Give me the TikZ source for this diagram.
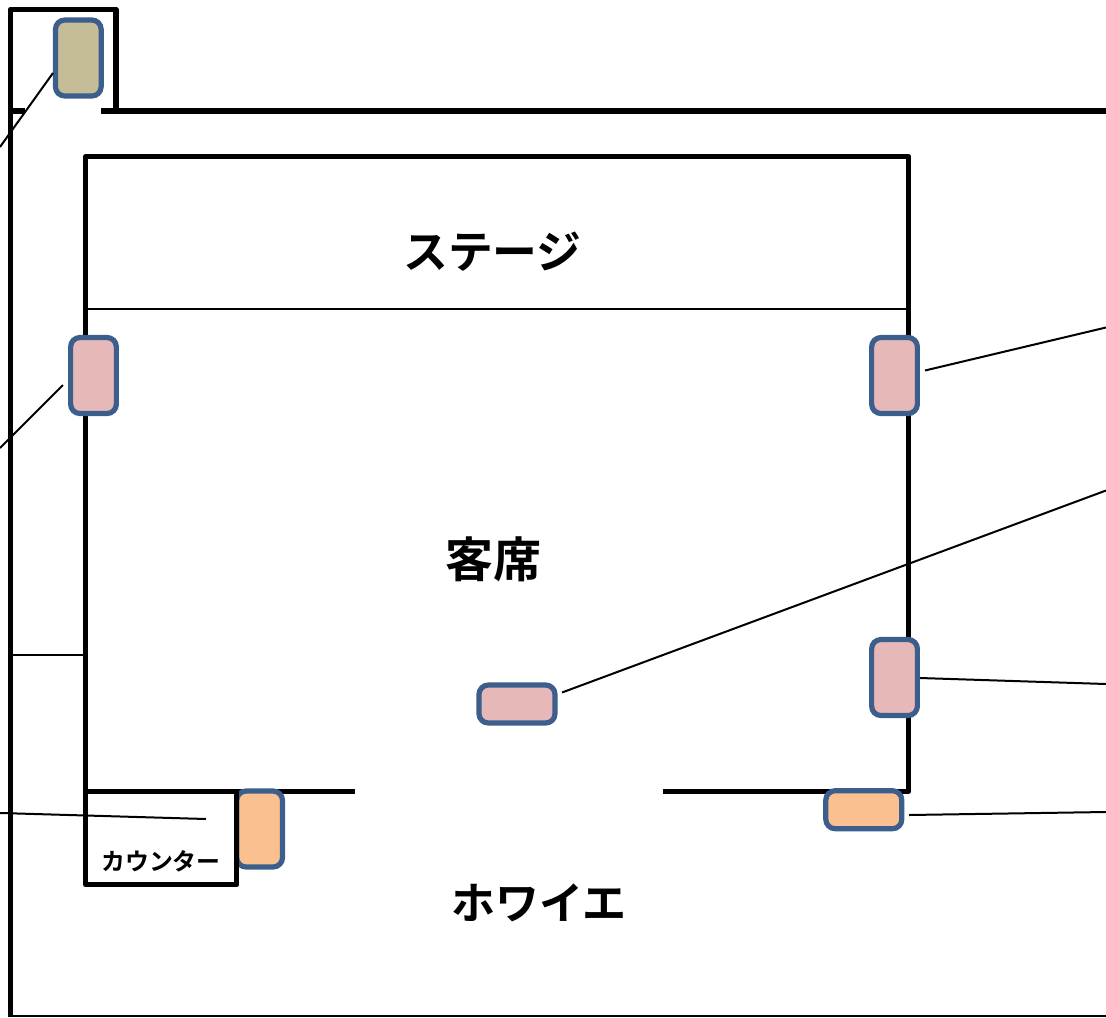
\documentclass[tikz,border=0pt]{standalone}
\usepackage{fontspec}
\newfontfamily\jpfont{Noto Sans CJK JP Bold}
\definecolor{edgeblue}{HTML}{3B5E8C}
\definecolor{tanfill}{HTML}{C4BD97}
\definecolor{pinkfill}{HTML}{E6B9B8}
\definecolor{orangefill}{HTML}{FAC090}
\tikzset{
  wall/.style={line width=3.9pt,line join=round,line cap=butt},
  thinwall/.style={line width=1.4pt},
  leader/.style={line width=1.5pt},
  seat/.style={draw=edgeblue,line width=3.9pt,rounded corners=7pt,inner sep=0pt,minimum width=#1},
  tall/.style={seat=34.3pt,minimum height=57pt},
  wide/.style={seat=57pt,minimum height=28.5pt},
  bigtext/.style={font=\jpfont\fontsize{33.6pt}{38pt}\selectfont,inner sep=0pt},
  foyertext/.style={font=\jpfont\fontsize{33pt}{38pt}\selectfont,inner sep=0pt},
  seattext/.style={font=\jpfont\fontsize{36pt}{40pt}\selectfont,inner sep=0pt},
  smalltext/.style={font=\jpfont\fontsize{17.9pt}{21pt}\selectfont,inner sep=0pt}
}
\begin{document}
\begin{tikzpicture}[x=0.75pt,y=-0.75pt]
\useasboundingbox (0,0) rectangle (1106,1017);
% outer building
\draw[wall] (10.5,1017) -- (10.5,9.3) -- (116,9.3) -- (116,111);
\draw[wall] (9,111) -- (25,111);
\draw[wall] (101,111) -- (1106,111);
\draw[thinwall] (11,1016) -- (1106,1016);
% hall
\draw[wall] (85.8,791.3) -- (85.8,156.7) -- (908.8,156.7) -- (908.8,791.3) -- (663,791.3);
\draw[wall] (85.8,791.3) -- (355,791.3);
\draw[thinwall] (86,309) -- (909,309);
\draw[thinwall] (11,655) -- (86,655);
% shapes
\node[tall,fill=tanfill] (tan) at (78.3,58) {};
\node[tall,fill=pinkfill] (pinkL) at (93.5,375.5) {};
\node[tall,fill=pinkfill] (pinkR) at (894.5,375.5) {};
\node[tall,fill=pinkfill] (pinkR2) at (894.5,677.5) {};
\node[wide,fill=pinkfill] (pinkM) at (517,704) {};
\node[wide,fill=orangefill] (orR) at (863.8,809.7) {};
\node[tall,fill=orangefill] (orL) at (259.6,829) {};
% counter
\draw[wall] (85.8,791.3) -- (85.8,884.7) -- (236.8,884.7) -- (236.8,791.3) -- cycle;
% connector ends
\coordinate (tanEnd) at (0,147);
\coordinate (pinkLa) at (63,385);
\coordinate (pinkLb) at (0,448);
\coordinate (pinkRa) at (925,370.5);
\coordinate (pinkRb) at (1106,327.5);
\coordinate (pinkMa) at (562,692.5);
\coordinate (pinkMb) at (1106,490.5);
\coordinate (pinkR2a) at (920,678);
\coordinate (pinkR2b) at (1106,684);
\coordinate (orRa) at (909,815);
\coordinate (orRb) at (1106,812);
\coordinate (orLa) at (206,819);
\coordinate (orLb) at (0,813);
\draw[leader] (53,73) -- (tanEnd);
\draw[leader] (pinkLa) -- (pinkLb);
\draw[leader] (pinkRa) -- (pinkRb);
\draw[leader] (pinkMa) -- (pinkMb);
\draw[leader] (pinkR2a) -- (pinkR2b);
\draw[leader] (orRa) -- (orRb);
\draw[leader] (orLa) -- (orLb);
% labels
\node[bigtext] (stage) at (492.5,252) {ステージ};
\node[seattext] (seats) at (493,559) {客席};
\node[foyertext] (foyer) at (539,903) {ホワイエ};
\node[smalltext] (counter) at (161,861) {カウンター};
\end{tikzpicture}
\end{document}
